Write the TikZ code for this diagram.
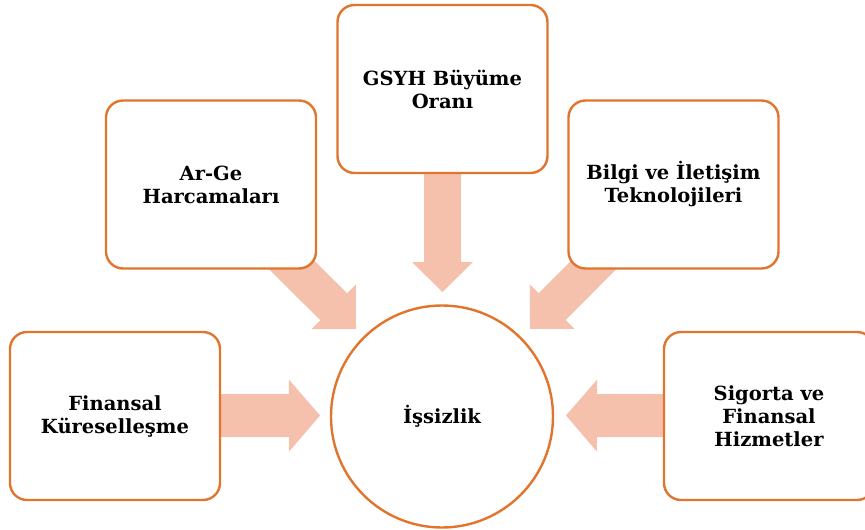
\documentclass[tikz,border=0pt]{standalone}
\usepackage{fontspec}
\setmainfont{DejaVu Serif}
\usetikzlibrary{calc}
\definecolor{edgeor}{RGB}{226,117,45}
\definecolor{peach}{RGB}{245,192,172}
\newcommand{\blockarr}[5]{% tail, tip, shaft half, head half, head length
  \coordinate (bac) at ($(#2)!#5!(#1)$);
  \fill[peach] ($(#1)!#3!90:(#2)$) -- ($(bac)!#3!90:(#2)$) -- ($(bac)!#4!90:(#2)$)
    -- (#2) -- ($(bac)!#4!-90:(#2)$) -- ($(bac)!#3!-90:(#2)$) -- ($(#1)!#3!-90:(#2)$) -- cycle;}
\begin{document}
\begin{tikzpicture}[x=1pt,y=-1pt,
  box/.style={draw=edgeor, line width=2.4pt, rounded corners=17pt, fill=white,
    minimum width=210pt, minimum height=168pt, align=center, inner sep=0pt,
    font=\bfseries\fontsize{19.5}{23}\selectfont},
  hub/.style={circle, draw=edgeor, line width=2.4pt, fill=white, minimum size=222pt,
    inner sep=0pt, font=\bfseries\fontsize{19.5}{23}\selectfont}]
\useasboundingbox (0,0) rectangle (865,530);
\clip (0,0) rectangle (865,530);
\coordinate (gsyhc) at (442.5,89);
\coordinate (argec) at (211,184.5);
\coordinate (bilgic) at (673.5,184.5);
\coordinate (finc) at (115,416);
\coordinate (sigc) at (769,416);
\coordinate (t1) at (442.5,292);
\coordinate (t2) at (356,329);
\coordinate (t3) at (530,329);
\coordinate (t4) at (320,415.5);
\coordinate (t5) at (566,415.5);
\blockarr{gsyhc}{t1}{18.5pt}{30.5pt}{30pt}
\blockarr{argec}{t2}{19pt}{31.5pt}{31.5pt}
\blockarr{bilgic}{t3}{19pt}{31.5pt}{31.5pt}
\blockarr{finc}{t4}{21.5pt}{36pt}{31pt}
\blockarr{sigc}{t5}{21.5pt}{36pt}{31pt}
\node[box] (gsyh) at (gsyhc) {GSYH Büyüme\\Oranı};
\node[box] (arge) at (argec) {Ar-Ge\\Harcamaları};
\node[box] (bilgi) at (bilgic) {Bilgi ve İletişim\\Teknolojileri};
\node[box] (fin) at (finc) {Finansal\\Küreselleşme};
\node[box] (sig) at (sigc) {Sigorta ve\\Finansal\\Hizmetler};
\node[hub] (iss) at (442,416.5) {İşsizlik};
\end{tikzpicture}
\end{document}
